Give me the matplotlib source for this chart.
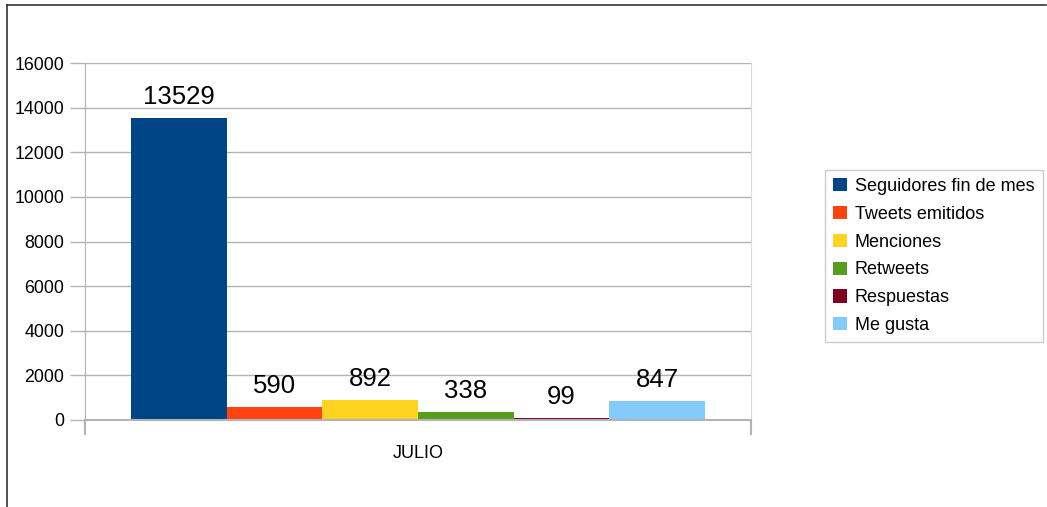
import numpy as np
import matplotlib.pyplot as plt
from matplotlib.lines import Line2D

plt.rcParams['font.family'] = ['Liberation Sans', 'DejaVu Sans']

categoria = 'JULIO'
series = ['Seguidores fin de mes', 'Tweets emitidos', 'Menciones',
          'Retweets', 'Respuestas', 'Me gusta']
valores = [13529, 590, 892, 338, 99, 847]
colores = ['#004586', '#ff420e', '#ffd320', '#579d1c', '#7e0021', '#83caff']
yticks = [0, 2000, 4000, 6000, 8000, 10000, 12000, 14000, 16000]

W, H = 1047, 507
fig = plt.figure(figsize=(W / 100, H / 100), dpi=100)
ax = fig.add_axes([85 / W, 1 - 420 / H, (751 - 85) / W, (420 - 63) / H])

grupo = 0.862
width = grupo / len(series)
x = -grupo / 2 + width / 2 + np.arange(len(series)) * width
for xi, v, c, s in zip(x, valores, colores, series):
    rects = ax.bar(xi, v, width, color=c, label=s, zorder=3)
    ax.bar_label(rects, labels=[str(v)], padding=6.5, fontsize=18.5, color='#000000')

ax.set_xlim(-0.5, 0.5)
ax.set_ylim(0, 16000)
ax.set_yticks(yticks)
ax.tick_params(axis='y', length=11, width=1, color='#b3b3b3', labelsize=12.8, pad=4)
ax.set_xticks([-0.5, 0.5])
ax.set_xticklabels(['', ''])
ax.tick_params(axis='x', length=11, width=1.5, color='#b3b3b3')
ax.text(0.5, -0.093, categoria, transform=ax.transAxes, ha='center', va='center', fontsize=13)

ax.grid(axis='y', color='#b3b3b3', linewidth=1, zorder=0)
ax.spines['top'].set_visible(False)
ax.spines['left'].set_color('#b3b3b3')
ax.spines['right'].set_color('#d9d9d9')
ax.spines['bottom'].set_color('#b3b3b3')
ax.spines['bottom'].set_linewidth(1.5)
ax.spines['bottom'].set_zorder(4)

leg = ax.legend(loc='center left', bbox_to_anchor=(825 / W, 1 - 256 / H),
                bbox_transform=fig.transFigure, fontsize=13, frameon=True,
                fancybox=False, edgecolor='#c0c0c0', handlelength=0.75,
                handleheight=0.75, handletextpad=0.45, labelspacing=0.6,
                borderpad=0.45, borderaxespad=0)
leg.get_frame().set_linewidth(1)

# marco de la figura
fig.add_artist(Line2D([7 / W, 7 / W], [0, 1 - 5 / H], transform=fig.transFigure,
                      color='#333333', linewidth=1.2))
fig.add_artist(Line2D([7 / W, 1046 / W], [1 - 5 / H, 1 - 5 / H], transform=fig.transFigure,
                      color='#333333', linewidth=1.2))

plt.savefig('out.png', dpi=100)
